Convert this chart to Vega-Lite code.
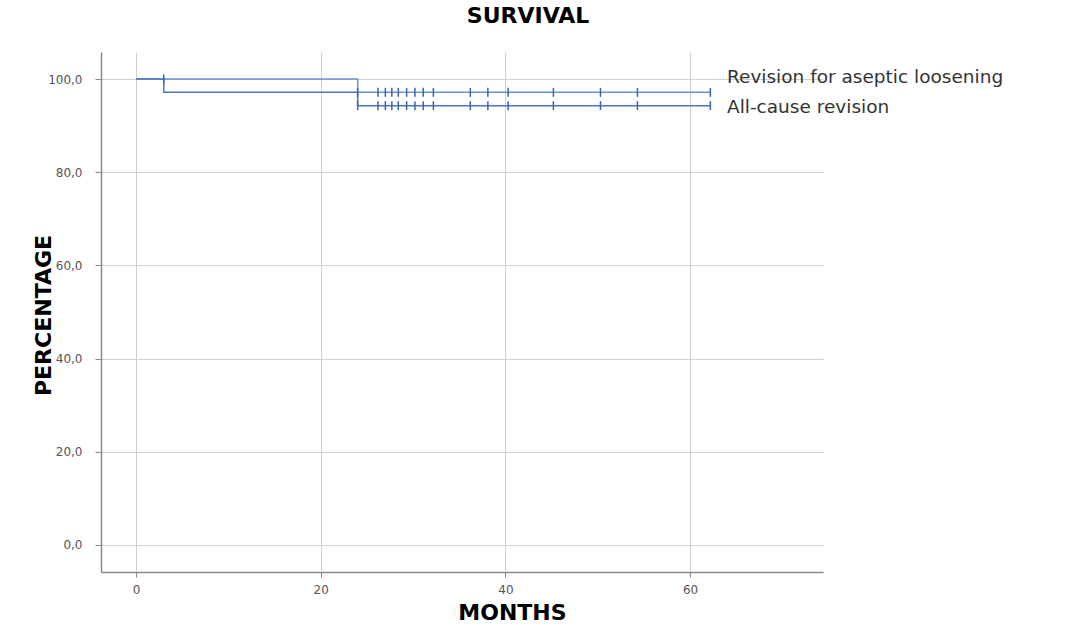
{
  "$schema": "https://vega.github.io/schema/vega-lite/v6.json",
  "width": 722,
  "height": 520,
  "autosize": "none",
  "padding": {"left": 101, "top": 52, "right": 264, "bottom": 67},
  "background": "white",
  "config": {"view": {"stroke": null}, "font": "DejaVu Sans"},
  "title": {"text": "SURVIVAL", "font": "DejaVu Sans", "fontSize": 22, "fontWeight": "bold", "color": "#000000", "dx": 66, "offset": 24},
  "datasets": {
    "curves": [
      {"series": "Revision for aseptic loosening", "month": 0, "pct": 100},
      {"series": "Revision for aseptic loosening", "month": 24, "pct": 97.14},
      {"series": "Revision for aseptic loosening", "month": 62.2, "pct": 97.14},
      {"series": "All-cause revision", "month": 0, "pct": 100},
      {"series": "All-cause revision", "month": 3, "pct": 97.14},
      {"series": "All-cause revision", "month": 24, "pct": 94.29},
      {"series": "All-cause revision", "month": 62.2, "pct": 94.29}
    ],
    "censors": [
      {"series": "Revision for aseptic loosening", "month": 3, "pct": 100},
      {"series": "Revision for aseptic loosening", "month": 24, "pct": 97.14},
      {"series": "Revision for aseptic loosening", "month": 26.2, "pct": 97.14},
      {"series": "Revision for aseptic loosening", "month": 27, "pct": 97.14},
      {"series": "Revision for aseptic loosening", "month": 27.7, "pct": 97.14},
      {"series": "Revision for aseptic loosening", "month": 28.4, "pct": 97.14},
      {"series": "Revision for aseptic loosening", "month": 29.3, "pct": 97.14},
      {"series": "Revision for aseptic loosening", "month": 30.2, "pct": 97.14},
      {"series": "Revision for aseptic loosening", "month": 31.1, "pct": 97.14},
      {"series": "Revision for aseptic loosening", "month": 32.2, "pct": 97.14},
      {"series": "Revision for aseptic loosening", "month": 36.2, "pct": 97.14},
      {"series": "Revision for aseptic loosening", "month": 38.1, "pct": 97.14},
      {"series": "Revision for aseptic loosening", "month": 40.3, "pct": 97.14},
      {"series": "Revision for aseptic loosening", "month": 45.2, "pct": 97.14},
      {"series": "Revision for aseptic loosening", "month": 50.3, "pct": 97.14},
      {"series": "Revision for aseptic loosening", "month": 54.3, "pct": 97.14},
      {"series": "Revision for aseptic loosening", "month": 62.2, "pct": 97.14},
      {"series": "All-cause revision", "month": 24, "pct": 94.29},
      {"series": "All-cause revision", "month": 26.2, "pct": 94.29},
      {"series": "All-cause revision", "month": 27, "pct": 94.29},
      {"series": "All-cause revision", "month": 27.7, "pct": 94.29},
      {"series": "All-cause revision", "month": 28.4, "pct": 94.29},
      {"series": "All-cause revision", "month": 29.3, "pct": 94.29},
      {"series": "All-cause revision", "month": 30.2, "pct": 94.29},
      {"series": "All-cause revision", "month": 31.1, "pct": 94.29},
      {"series": "All-cause revision", "month": 32.2, "pct": 94.29},
      {"series": "All-cause revision", "month": 36.2, "pct": 94.29},
      {"series": "All-cause revision", "month": 38.1, "pct": 94.29},
      {"series": "All-cause revision", "month": 40.3, "pct": 94.29},
      {"series": "All-cause revision", "month": 45.2, "pct": 94.29},
      {"series": "All-cause revision", "month": 50.3, "pct": 94.29},
      {"series": "All-cause revision", "month": 54.3, "pct": 94.29},
      {"series": "All-cause revision", "month": 62.2, "pct": 94.29}
    ],
    "labels": [
      {"label": "Revision for aseptic loosening", "month": 64.0, "pct": 100.4},
      {"label": "All-cause revision", "month": 64.0, "pct": 94.0}
    ]
  },
  "encoding": {
    "x": {
      "field": "month", "type": "quantitative",
      "scale": {"domain": [-3.8, 74.4], "nice": false, "zero": false},
      "axis": {
        "values": [0, 20, 40, 60], "grid": true, "gridColor": "#cfcfcf", "gridWidth": 1,
        "domainColor": "#8a8a8a", "domainWidth": 1.5, "ticks": true, "tickColor": "#8a8a8a", "tickSize": 5,
        "labelColor": "#555555", "labelFontSize": 12, "labelPadding": 7, "labelFont": "DejaVu Sans",
        "title": "MONTHS", "titleFont": "DejaVu Sans", "titleFontSize": 22, "titleFontWeight": "bold", "titleColor": "#000000",
        "titleX": 411, "titleY": 40, "titleBaseline": "middle", "titleAlign": "center"
      }
    },
    "y": {
      "field": "pct", "type": "quantitative",
      "scale": {"domain": [-5.8, 105.8], "nice": false, "zero": false},
      "axis": {
        "values": [0, 20, 40, 60, 80, 100], "grid": true, "gridColor": "#cfcfcf", "gridWidth": 1,
        "labelExpr": "replace(format(datum.value, '.1f'), '.', ',')",
        "domainColor": "#8a8a8a", "domainWidth": 1.5, "ticks": true, "tickColor": "#8a8a8a", "tickSize": 6,
        "labelColor": "#555555", "labelFontSize": 12, "labelPadding": 13, "labelFont": "DejaVu Sans",
        "title": "PERCENTAGE", "titleFont": "DejaVu Sans", "titleFontSize": 22, "titleFontWeight": "bold", "titleColor": "#000000",
        "titleX": -58, "titleY": 263, "titleBaseline": "middle", "titleAlign": "center", "titleAngle": -90
      }
    }
  },
  "layer": [
    {
      "data": {"name": "curves"},
      "mark": {"type": "line", "interpolate": "step-after", "strokeWidth": 1.5},
      "encoding": {
        "color": {"field": "series", "type": "nominal",
          "scale": {"domain": ["Revision for aseptic loosening", "All-cause revision"], "range": ["#6b93d2", "#4a78c0"]},
          "legend": null}
      }
    },
    {
      "data": {"name": "censors"},
      "mark": {"type": "point", "shape": "M0,-1L0,1", "size": 81, "filled": false, "strokeWidth": 1.5, "opacity": 1, "color": "#3e63a8"},
      "encoding": {}
    },
    {
      "data": {"name": "labels"},
      "mark": {"type": "text", "align": "left", "baseline": "middle", "font": "DejaVu Sans", "fontSize": 18.5, "color": "#333333"},
      "encoding": {"text": {"field": "label", "type": "nominal"}}
    }
  ]
}
